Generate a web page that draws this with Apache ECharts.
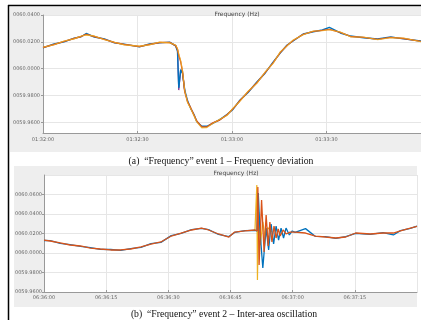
<!DOCTYPE html>
<html>
<head>
<meta charset="utf-8">
<script src="https://cdn.jsdelivr.net/npm/echarts@6.0.0/dist/echarts.min.js"></script>
<style>
  body { margin: 0; background: #fff; }
  #chart { width: 421px; height: 320px; }
</style>
</head>
<body>
<div id="chart"></div>
<script>
// (a) event 1 - seconds after 01:32:00
const timeA = [0, 3.5, 6.7, 9.9, 12.1, 13.7, 16.3, 19.5, 22.7, 25.8, 30.6, 33.8, 37.0, 40.2, 42.1, 42.7, 43.1, 43.7, 44.3, 45.0,
  45.9, 46.9, 47.9, 48.8, 50.4, 52.0, 53.9, 56.1, 58.4, 60.3, 62.5, 65.1, 67.9, 70.5, 73.1, 75.3, 77.5, 79.4, 82.6, 85.8,
  88.7, 90.9, 94.4, 97.6, 101.8, 106.2, 110.4, 114.5, 120];
const orangeA = [60.0158, 60.0180, 60.0203, 60.0225, 60.0240, 60.0255, 60.0240, 60.0218, 60.0195, 60.0180, 60.0165, 60.0180,
  60.0195, 60.0195, 60.0172, 60.0143, 60.0100, 60.0053, 59.9977, 59.9827, 59.9752, 59.9707, 59.9655, 59.9610, 59.9565,
  59.9565, 59.9595, 59.9617, 59.9655, 59.9700, 59.9760, 59.9827, 59.9895, 59.9970, 60.0045, 60.0120, 60.0173, 60.0210,
  60.0255, 60.0278, 60.0285, 60.0293, 60.0270, 60.0240, 60.0233, 60.0218, 60.0233, 60.0225, 60.0203];
const yellowA = [60.0160, 60.0178, 60.0206, 60.0222, 60.0243, 60.0250, 60.0244, 60.0215, 60.0197, 60.0177, 60.0168, 60.0177,
  60.0198, 60.0192, 60.0176, 60.0150, 60.0110, 60.0060, 59.9985, 59.9835, 59.9745, 59.9700, 59.9650, 59.9602, 59.9558,
  59.9560, 59.9590, 59.9622, 59.9650, 59.9705, 59.9755, 59.9832, 59.9890, 59.9975, 60.0040, 60.0125, 60.0170, 60.0214,
  60.0252, 60.0281, 60.0282, 60.0290, 60.0273, 60.0237, 60.0236, 60.0215, 60.0230, 60.0228, 60.0200];
const blueA = [60.0155, 60.0184, 60.0200, 60.0228, 60.0238, 60.0262, 60.0236, 60.0222, 60.0192, 60.0183, 60.0162, 60.0184,
  60.0192, 60.0198, 60.0170, 60.0130, 59.9857, 59.9993, 59.9962, 59.9840, 59.9760, 59.9702, 59.9660, 59.9605, 59.9570,
  59.9570, 59.9592, 59.9620, 59.9658, 59.9696, 59.9764, 59.9822, 59.9900, 59.9966, 60.0050, 60.0116, 60.0176, 60.0206,
  60.0258, 60.0275, 60.0288, 60.0308, 60.0266, 60.0243, 60.0230, 60.0221, 60.0236, 60.0222, 60.0206];
const timePurpleA = [40.2, 42.1, 42.7, 43.1, 43.7, 44.3, 45.0];
const purpleA = [60.0195, 60.0172, 60.0140, 59.9840, 59.9990, 59.9970, 59.9830];
const yTicksA = [59.96, 59.98, 60.00, 60.02, 60.04];

// (b) event 2 - seconds after 06:36:00
const timeRedB = [0, 1.5, 3.9, 6.3, 8.8, 11.2, 13.6, 16.1, 18.5, 20.9, 23.4, 25.8, 28.2, 30.7, 33.1, 35.6, 38.0, 39.7, 42.1,
  44.6, 46.0, 48.5, 50.9, 51.4, 51.6, 51.9, 52.5, 53.1, 53.6, 54.1, 54.5, 55.0, 55.5, 56.0, 56.5, 57.0, 57.7, 58.4, 59.4,
  60.6, 63.1, 65.5, 67.9, 70.4, 72.8, 75.2, 78.7, 81.8, 84.3, 86.0, 88.4, 90];
const redB = [60.0133, 60.0123, 60.0103, 60.0082, 60.0072, 60.0051, 60.0041, 60.0031, 60.0031, 60.0041, 60.0062, 60.0092,
  60.0113, 60.0174, 60.0205, 60.0236, 60.0256, 60.0236, 60.0195, 60.0164, 60.0215, 60.0226, 60.0236, 60.0226, 60.0677,
  59.9877, 60.0544, 60.0010, 60.0390, 60.0072, 60.0318, 60.0113, 60.0277, 60.0154, 60.0246, 60.0174, 60.0236, 60.0195,
  60.0215, 60.0215, 60.0205, 60.0174, 60.0164, 60.0154, 60.0164, 60.0205, 60.0195, 60.0205, 60.0205, 60.0226, 60.0256, 60.0272];
const timeBlueB = [0, 1.5, 3.9, 6.3, 8.8, 11.2, 13.6, 16.1, 18.5, 20.9, 23.4, 25.8, 28.2, 30.7, 33.1, 35.6, 38.0, 39.7, 42.1,
  44.6, 46.0, 48.5, 50.9, 51.4, 51.7, 52.1, 52.8, 53.6, 54.2, 54.8, 55.4, 56.0, 56.6, 57.2, 57.8, 58.4, 59.2, 59.9,
  60.6, 63.1, 65.5, 67.9, 70.4, 72.8, 75.2, 78.7, 81.8, 84.3, 86.0, 88.4, 90];
const blueB = [60.0128, 60.0126, 60.0098, 60.0086, 60.0068, 60.0055, 60.0037, 60.0036, 60.0027, 60.0045, 60.0058, 60.0097,
  60.0109, 60.0178, 60.0201, 60.0240, 60.0252, 60.0240, 60.0190, 60.0168, 60.0211, 60.0230, 60.0232, 60.0226, 60.0615,
  60.0236, 59.9846, 60.0256, 60.0031, 60.0297, 60.0092, 60.0277, 60.0133, 60.0256, 60.0154, 60.0256, 60.0185, 60.0226,
  60.0211, 60.0250, 60.0170, 60.0168, 60.0150, 60.0168, 60.0201, 60.0190, 60.0210, 60.0185, 60.0230, 60.0252, 60.0276];
const timeYellowB = [50.9, 51.2, 51.35, 51.5, 51.8, 52.2, 52.8, 53.4, 54.0, 55.0];
const yellowB = [60.0232, 60.0240, 60.0697, 59.9723, 60.0420, 60.0080, 60.0320, 60.0150, 60.0260, 60.0215];

const zip = (t, v) => t.map((x, i) => [x, v[i]]);
const freqLabel = v => v.toFixed(4).padStart(9, "0");
const clock = (base, s) => {
  const t = base + Math.round(s);
  const p = n => String(n).padStart(2, "0");
  return p(Math.floor(t / 3600)) + ":" + p(Math.floor(t / 60) % 60) + ":" + p(t % 60);
};

const chart = echarts.init(document.getElementById("chart"));
const gray = "#999";
const labelStyle = { color: "#666", fontSize: 5, fontFamily: "DejaVu Sans" };
const line = (name, color, data, xi, width, opacity) => ({
  name, type: "line", xAxisIndex: xi, yAxisIndex: xi, data,
  showSymbol: false, lineStyle: { color, width: width || 1.2, opacity: opacity || 1 }, itemStyle: { color }
});
const captionFont = "9.7px 'Liberation Serif'";

chart.setOption({
  animation: false,
  graphic: [
    { type: "rect", z: -10, shape: { x: 10, y: 7, width: 411, height: 145 }, style: { fill: "#eeeeee" } },
    { type: "rect", z: -10, shape: { x: 14, y: 166, width: 403, height: 141 }, style: { fill: "#eeeeee" } },
    { type: "line", shape: { x1: 8, y1: 5.5, x2: 421, y2: 5.5 }, style: { stroke: "#000", lineWidth: 1.5 } },
    { type: "line", shape: { x1: 8.5, y1: 5, x2: 8.5, y2: 320 }, style: { stroke: "#000", lineWidth: 1.5 } },
    { type: "text", style: { x: 221, y: 161, text: "(a)  “Frequency” event 1 – Frequency deviation", textAlign: "center",
      textVerticalAlign: "middle", font: captionFont, fill: "#111" } },
    { type: "text", style: { x: 224, y: 314, text: "(b)  “Frequency” event 2 – Inter-area oscillation", textAlign: "center",
      textVerticalAlign: "middle", font: captionFont, fill: "#111" } }
  ],
  title: [
    { text: "Frequency (Hz)", left: 232, top: 6, textAlign: "center",
      textStyle: { fontSize: 6, fontWeight: "normal", color: "#444", fontFamily: "DejaVu Sans" } },
    { text: "Frequency (Hz)", left: 231, top: 165, textAlign: "center",
      textStyle: { fontSize: 6, fontWeight: "normal", color: "#444", fontFamily: "DejaVu Sans" } }
  ],
  grid: [
    { left: 43, top: 15, width: 378, height: 118, show: true, backgroundColor: "#fff", borderWidth: 0 },
    { left: 44, top: 175, width: 373, height: 117, show: true, backgroundColor: "#fff", borderWidth: 0 }
  ],
  xAxis: [
    { type: "value", gridIndex: 0, min: 0, max: 120, interval: 30,
      axisLine: { lineStyle: { color: gray } }, axisTick: { inside: true, length: 2, lineStyle: { color: gray } },
      splitLine: { lineStyle: { color: "#e6e6e6" } },
      axisLabel: { ...labelStyle, margin: 4, showMaxLabel: false, formatter: v => clock(1 * 3600 + 32 * 60, v) } },
    { type: "value", gridIndex: 1, min: 0, max: 90, interval: 15,
      axisLine: { lineStyle: { color: gray } }, axisTick: { inside: true, length: 2, lineStyle: { color: gray } },
      splitLine: { lineStyle: { color: "#e6e6e6" } },
      axisLabel: { ...labelStyle, margin: 3, showMaxLabel: false, formatter: v => clock(6 * 3600 + 36 * 60, v) } }
  ],
  yAxis: [
    { type: "value", gridIndex: 0, min: 59.952, max: 60.04,
      axisLine: { show: true, lineStyle: { color: gray } },
      axisTick: { show: true, length: 2, customValues: yTicksA, lineStyle: { color: gray } },
      splitLine: { lineStyle: { color: "#e6e6e6" } },
      axisLabel: { ...labelStyle, margin: 3, customValues: yTicksA, formatter: freqLabel } },
    { type: "value", gridIndex: 1, min: 59.96, max: 60.08, interval: 0.02,
      axisLine: { show: true, lineStyle: { color: gray } },
      axisTick: { show: true, length: 2, lineStyle: { color: gray } },
      splitLine: { lineStyle: { color: "#e6e6e6" } },
      axisLabel: { ...labelStyle, margin: 2, showMaxLabel: false, formatter: freqLabel } }
  ],
  series: [
    line("purple", "#7E2F8E", zip(timePurpleA, purpleA), 0, 1.2),
    line("blue", "#0072BD", zip(timeA, blueA), 0, 1.4),
    line("orange", "#D95319", zip(timeA, orangeA), 0, 1.4),
    line("yellow", "#EDB120", zip(timeA, yellowA), 0, 1.1, 0.75),
    line("yellow", "#EDB120", zip(timeYellowB, yellowB), 1, 1.2),
    line("blue", "#0072BD", zip(timeBlueB, blueB), 1, 1.3),
    line("red", "#D95319", zip(timeRedB, redB), 1, 1.3)
  ]
});
</script>
</body>
</html>
